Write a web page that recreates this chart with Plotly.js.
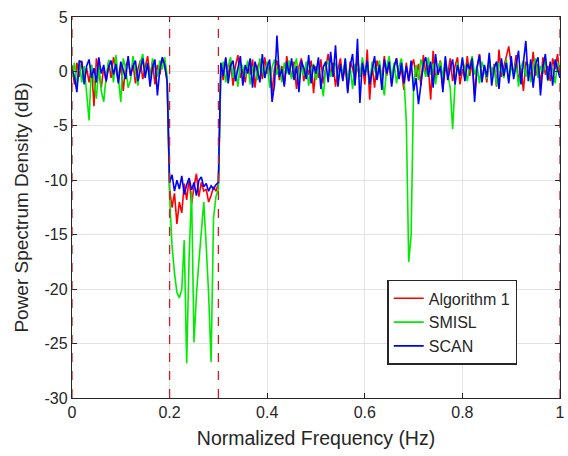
<!DOCTYPE html>
<html>
<head>
<meta charset="utf-8">
<script src="https://cdn.plot.ly/plotly-3.0.1.min.js"></script>
<style>html,body{margin:0;padding:0;background:#fff;}#chart{width:568px;height:456px;}</style>
</head>
<body>
<div id="chart"></div>
<script>
// Normalized frequency grid (Hz)
const freq = [
0.000,0.005,0.010,0.015,0.020,0.025,0.030,0.035,0.040,0.045,0.050,0.055,0.060,0.065,0.070,0.075,0.080,0.085,0.090,0.095,
0.100,0.105,0.110,0.115,0.120,0.125,0.130,0.135,0.140,0.145,0.150,0.155,0.160,0.165,0.170,0.175,0.180,0.185,0.190,0.195,
0.200,0.205,0.210,0.215,0.220,0.225,0.230,0.235,0.240,0.245,0.250,0.255,0.260,0.265,0.270,0.275,0.280,0.285,0.290,0.295,
0.300,0.305,0.310,0.315,0.320,0.325,0.330,0.335,0.340,0.345,0.350,0.355,0.360,0.365,0.370,0.375,0.380,0.385,0.390,0.395,
0.400,0.405,0.410,0.415,0.420,0.425,0.430,0.435,0.440,0.445,0.450,0.455,0.460,0.465,0.470,0.475,0.480,0.485,0.490,0.495,
0.500,0.505,0.510,0.515,0.520,0.525,0.530,0.535,0.540,0.545,0.550,0.555,0.560,0.565,0.570,0.575,0.580,0.585,0.590,0.595,
0.600,0.605,0.610,0.615,0.620,0.625,0.630,0.635,0.640,0.645,0.650,0.655,0.660,0.665,0.670,0.675,0.680,0.685,0.690,0.695,
0.700,0.705,0.710,0.715,0.720,0.725,0.730,0.735,0.740,0.745,0.750,0.755,0.760,0.765,0.770,0.775,0.780,0.785,0.790,0.795,
0.800,0.805,0.810,0.815,0.820,0.825,0.830,0.835,0.840,0.845,0.850,0.855,0.860,0.865,0.870,0.875,0.880,0.885,0.890,0.895,
0.900,0.905,0.910,0.915,0.920,0.925,0.930,0.935,0.940,0.945,0.950,0.955,0.960,0.965,0.970,0.975,0.980,0.985,0.990,0.995,
1.000];

// Algorithm 1 (red), dB
const algorithm1 = [
0.5,-1.2,0.8,-0.5,1.0,-0.8,0.3,-1.0,0.6,-3.2,
1.2,-0.3,-1.5,0.4,-1.0,0.9,-0.6,1.3,0.2,-0.9,
0.7,-1.8,0.5,1.1,-0.4,0.8,-1.1,0.2,1.0,-0.7,
0.4,1.4,-0.5,0.9,-1.2,0.6,-0.3,1.1,0.5,-0.8,
-10.8,-12.5,-11.2,-14.0,-12.0,-13.0,-10.3,-11.8,-9.8,-12.2,
-10.6,-9.4,-11.5,-10.2,-11.0,-10.8,-12.0,-11.4,-10.6,-11.0,-10.3,
0.3,-0.8,1.2,-0.4,0.9,-1.3,0.5,1.5,-0.6,0.2,
-1.0,0.8,-0.3,1.1,-1.5,0.4,0.9,-0.7,1.3,-0.2,
0.6,-1.9,0.3,1.0,-0.8,0.5,-1.2,1.4,0.1,-0.5,
0.9,-1.6,0.4,1.2,-0.9,0.6,-0.3,1.0,-2.0,0.5,
-0.6,1.1,-1.1,0.3,1.6,-0.4,0.8,-1.4,0.2,1.2,
-0.7,0.5,-1.8,0.9,0.3,-1.0,1.3,-0.5,0.7,-1.2,
2.0,-2.6,0.6,-1.5,1.0,0.2,-0.8,1.4,-0.4,0.9,
-1.1,0.5,1.2,-0.6,0.3,-1.7,0.8,-0.9,0.4,1.1,
-0.5,0.7,-1.3,1.5,-0.2,0.6,-2.6,1.9,-0.7,0.3,
1.0,-1.6,0.4,-0.3,1.2,-0.9,0.5,1.3,-1.2,0.2,
-0.6,1.4,-0.4,0.8,-2.1,0.3,1.6,-0.8,0.5,-1.0,
1.1,-0.3,0.7,-1.4,2.0,-0.5,0.4,1.2,2.3,0.6,
-0.2,1.5,-0.9,0.3,-1.8,0.9,0.4,-0.6,1.8,-0.4,
0.7,-1.2,1.3,-0.3,0.5,-0.9,1.2,0.2,1.6,-0.5];

// SMISL (green), dB
const smisl = [
-0.5,0.8,-1.5,1.0,-1.0,0.5,-2.0,-4.5,0.6,-0.8,
-2.5,0.6,-1.8,-2.8,-0.4,1.0,0.9,-1.0,1.5,-0.6,
-2.8,1.2,0.3,-1.5,-0.8,1.4,0.2,-1.3,0.8,1.6,
-0.3,0.7,-1.0,1.2,0.4,-0.5,1.0,0.2,1.3,-0.4,
-11.5,-16.0,-18.5,-20.3,-20.8,-20.0,-15.5,-26.8,-17.0,-11.0,
-24.9,-20.5,-17.5,-14.5,-12.0,-16.0,-20.5,-26.7,-13.5,-11.5,-10.8,
-0.2,0.9,-1.0,0.5,1.3,-0.6,0.2,-1.4,0.8,0.4,
-0.5,1.0,-1.2,0.3,0.7,-0.8,1.2,0.1,-0.6,0.9,
-1.5,0.4,1.1,-0.3,0.6,-1.0,0.8,-0.2,1.0,-0.7,
0.3,1.2,-0.9,0.5,-0.4,0.9,-1.3,0.2,0.7,-0.8,
0.5,-1.1,-2.3,0.4,1.0,-0.5,0.3,0.8,-1.0,0.6,
-0.3,1.1,-0.8,0.4,-1.6,0.7,0.2,-0.5,1.3,-0.2,
0.6,-1.2,0.9,0.3,-0.7,1.0,-0.4,-2.2,0.5,1.4,
-0.6,0.8,-1.1,0.4,1.2,-0.5,-4.5,-17.5,-15.0,-1.2,
0.6,-0.8,1.1,0.2,-0.5,1.3,-0.3,0.7,-1.2,0.4,
0.9,-0.6,1.2,-0.2,-1.5,-5.3,-1.0,0.8,-0.4,1.1,
0.3,-0.9,0.6,1.4,-0.3,0.5,-1.1,0.9,0.2,-0.7,
1.2,-0.4,0.6,-1.3,0.8,0.3,-0.6,1.1,-0.9,0.5,
-0.3,0.9,-1.4,0.4,1.0,-0.5,0.7,-1.0,0.3,1.2,
-0.6,0.5,-0.2,1.1,-0.9,0.6,0.2,-1.1,0.8,0.3];

// SCAN (blue), dB
const scan = [
0.2,-0.5,-1.9,1.0,0.8,-1.2,0.5,1.1,-0.6,0.3,
-1.0,1.3,-0.2,0.6,-0.9,0.4,1.0,-0.3,0.7,-1.1,
0.9,0.1,-0.7,1.4,-0.4,0.5,1.0,-0.9,0.3,1.2,
-0.6,0.8,-1.4,0.4,1.1,-2.2,0.2,1.3,0.6,-1.0,
-10.2,-9.5,-11.0,-10.0,-10.8,-9.6,-11.3,-10.4,-9.8,-10.9,
-10.2,-11.4,-10.0,-9.7,-10.6,-10.3,-11.0,-10.5,-10.8,-10.4,-10.2,
0.8,-0.4,1.3,-1.1,0.5,1.0,-0.9,0.3,1.4,-1.3,
0.6,-0.2,1.2,-1.5,0.9,0.1,-1.0,1.6,-0.6,0.4,
1.1,-2.8,-1.2,3.3,-0.5,0.2,-1.4,0.9,-0.3,1.2,
-0.8,0.5,-1.9,1.0,0.3,-0.7,1.5,-1.1,0.6,-0.2,
1.3,-1.6,0.4,0.9,-1.0,1.8,-0.5,2.4,-1.4,0.7,
-0.9,1.2,-2.0,0.5,1.6,-1.3,3.0,-2.9,0.8,-0.4,
1.0,-1.2,0.3,1.4,-0.8,0.6,-1.7,1.1,-0.2,0.9,
-1.4,0.4,1.2,-0.7,0.8,-1.1,0.5,-0.9,1.0,-1.8,
-0.6,-3.0,-1.2,0.7,1.3,-0.5,0.9,-1.5,1.6,-0.3,
0.5,-1.9,1.4,-0.8,0.3,1.1,-1.2,0.6,-0.4,1.3,
-0.9,0.7,0.2,1.2,-2.8,0.4,1.5,-1.0,0.6,-0.5,
1.7,-1.3,0.3,0.9,-1.6,1.2,-0.4,0.8,-1.1,1.4,
-0.7,0.5,1.9,-1.2,0.6,2.8,-0.9,1.1,-1.5,0.7,
1.3,-2.2,0.4,1.6,-0.8,0.9,-1.3,1.1,0.2,-0.6];

// Band-edge markers (dashed red lines)
const bandEdges = [0, 0.2, 0.3, 1];
const xTicks = [0, 0.2, 0.4, 0.6, 0.8, 1];
const yTicks = [-30, -25, -20, -15, -10, -5, 0, 5];

const seriesNames = ['Algorithm 1', 'SMISL', 'SCAN'];
const seriesColors = ['rgb(255,0,0)', 'rgb(0,235,0)', 'rgb(0,0,255)'];
const seriesData = [algorithm1, smisl, scan];

const traces = seriesData.map((d, k) => ({
  x: freq, y: d, type: 'scatter', mode: 'lines', name: seriesNames[k],
  line: {color: seriesColors[k], width: 1.6}
}));

const shapes = bandEdges.map(v => ({
  type: 'line', xref: 'x', yref: 'paper', x0: v, x1: v, y0: 0, y1: 1,
  line: {color: 'rgb(205,30,40)', width: 1.3, dash: 'dash'}, layer: 'above'
}));

const font = {family: '"Liberation Sans", Arial, Helvetica, sans-serif', color: '#262626'};

const layout = {
  width: 568, height: 456,
  margin: {l: 72, r: 8, t: 17, b: 58},
  paper_bgcolor: '#fff', plot_bgcolor: '#fff',
  font: Object.assign({size: 15}, font),
  showlegend: true,
  legend: {
    x: 0.646, y: 0.31, xanchor: 'left', yanchor: 'top',
    bgcolor: '#fff', bordercolor: '#262626', borderwidth: 1.5,
    font: Object.assign({size: 16}, font), tracegroupgap: 0
  },
  xaxis: {
    range: [0, 1], tickvals: xTicks, ticktext: xTicks.map(String),
    showgrid: true, gridcolor: '#e3e3e3', gridwidth: 1.2, zeroline: false,
    showline: true, linecolor: '#262626', linewidth: 1.2, mirror: 'ticks',
    ticks: 'inside', ticklen: 5, tickcolor: '#262626',
    tickfont: Object.assign({size: 16}, font),
    title: {text: 'Normalized Frequency (Hz)', font: Object.assign({size: 19.5}, font), standoff: 11}
  },
  yaxis: {
    range: [-30, 5], tickvals: yTicks, ticktext: yTicks.map(String),
    showgrid: true, gridcolor: '#e3e3e3', gridwidth: 1.2, zeroline: false,
    showline: true, linecolor: '#262626', linewidth: 1.2, mirror: 'ticks',
    ticks: 'inside', ticklen: 5, tickcolor: '#262626',
    tickfont: Object.assign({size: 16}, font),
    title: {text: 'Power Spectrum Density (dB)', font: Object.assign({size: 19}, font), standoff: 10}
  },
  shapes: shapes
};

Plotly.newPlot('chart', traces, layout, {displayModeBar: false, staticPlot: true});
</script>
</body>
</html>
